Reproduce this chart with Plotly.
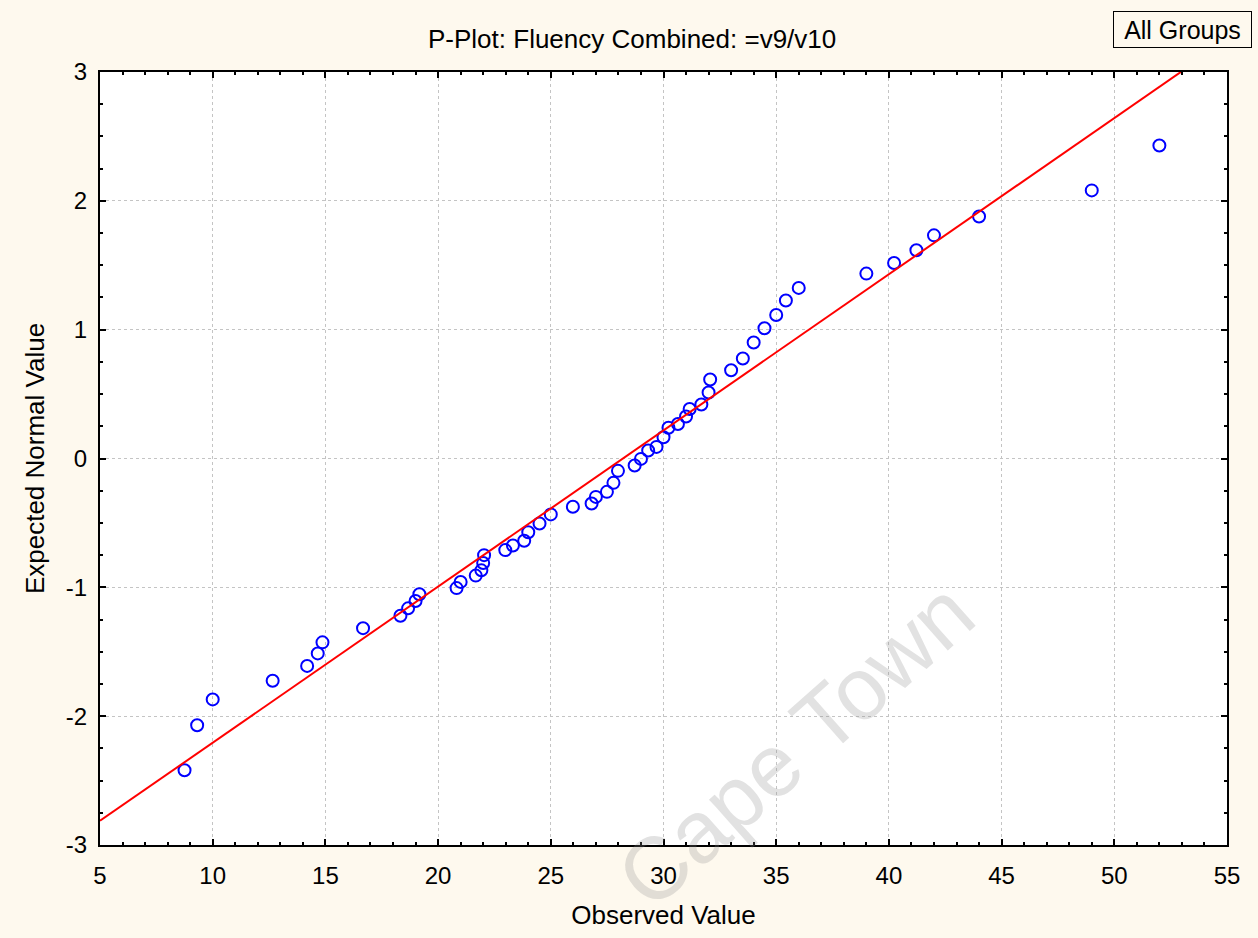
import plotly.graph_objects as go

# Observed fluency scores (sorted) and their expected normal values
observed = [8.75, 9.31, 10.0, 12.66, 14.19, 14.66, 14.87, 16.67, 18.33, 18.67,
            19.0, 19.17, 20.82, 21.0, 21.67, 21.92, 22.0, 22.04, 22.98, 23.32,
            23.82, 24.0, 24.5, 25.0, 25.98, 26.81, 27.0, 27.49, 27.78, 27.98,
            28.72, 29.0, 29.32, 29.69, 30.0, 30.22, 30.64, 31.0, 31.16, 31.68,
            32.0, 32.07, 33.0, 33.52, 34.0, 34.48, 35.0, 35.43, 36.0, 39.0,
            40.23, 41.22, 42.0, 44.0, 49.0, 52.0]
expected = [-2.42, -2.07, -1.87, -1.725, -1.61, -1.513, -1.427, -1.317, -1.22, -1.163,
            -1.106, -1.054, -1.006, -0.958, -0.909, -0.868, -0.811, -0.75, -0.711, -0.675,
            -0.639, -0.572, -0.504, -0.434, -0.375, -0.349, -0.298, -0.259, -0.189, -0.096,
            -0.054, -0.003, 0.062, 0.09, 0.165, 0.239, 0.268, 0.326, 0.384, 0.419,
            0.512, 0.613, 0.685, 0.776, 0.9, 1.011, 1.114, 1.226, 1.324, 1.435,
            1.517, 1.616, 1.732, 1.878, 2.081, 2.43]

# Reference normal line: z = (x - mean) / sd
fit_mean = 28.2
fit_sd = 8.25
x_range = [5, 55]
y_range = [-3, 3]

# Axis tick positions and labels (plain hyphen for negatives)
x_tickvals = [5, 10, 15, 20, 25, 30, 35, 40, 45, 50, 55]
x_ticktext = ["5", "10", "15", "20", "25", "30", "35", "40", "45", "50", "55"]
y_tickvals = [-3, -2, -1, 0, 1, 2, 3]
y_ticktext = ["-3", "-2", "-1", "0", "1", "2", "3"]

line_x = [x_range[0], x_range[1]]
line_y = [(v - fit_mean) / fit_sd for v in line_x]

PAGE_BG = "#FEF9EE"
FONT = "Liberation Sans, Arial, Helvetica, sans-serif"

fig = go.Figure()
fig.add_trace(go.Scatter(
    x=observed, y=expected, mode="markers",
    marker=dict(symbol="circle-open", size=12, color="#0000FF",
                line=dict(width=2, color="#0000FF")),
    showlegend=False,
))
fig.add_trace(go.Scatter(
    x=line_x, y=line_y, mode="lines",
    line=dict(color="#FF0000", width=2),
    showlegend=False,
))

axis_common = dict(
    showline=True, linecolor="black", linewidth=2, mirror="allticks",
    ticks="inside", ticklen=6, tickwidth=1.5, tickcolor="black",
    showgrid=True, gridcolor="#C4C4C4", gridwidth=1, griddash="dot",
    zeroline=False, tickmode="array",
    tickfont=dict(family=FONT, size=24, color="black"),
)

fig.update_xaxes(
    range=x_range, tickvals=x_tickvals, ticktext=x_ticktext,
    minor=dict(dtick=1, tick0=5, ticks="inside", ticklen=3, tickcolor="black", showgrid=False),
    title=dict(text="Observed Value", font=dict(family=FONT, size=26, color="black"),
               standoff=18),
    ticklabelstandoff=8,
    **axis_common,
)
fig.update_yaxes(
    range=y_range, tickvals=y_tickvals, ticktext=y_ticktext,
    minor=dict(dtick=0.25, tick0=-3, ticks="inside", ticklen=3, tickcolor="black", showgrid=False),
    title=dict(text="Expected Normal Value", font=dict(family=FONT, size=26, color="black"),
               standoff=14),
    ticklabelstandoff=6,
    **axis_common,
)

fig.update_layout(
    width=1258, height=938,
    margin=dict(l=100, r=31, t=72, b=93),
    paper_bgcolor=PAGE_BG,
    plot_bgcolor="white",
    title=dict(text="P-Plot: Fluency Combined: =v9/v10",
               font=dict(family=FONT, size=26, color="black"),
               x=0.5025, xref="container", xanchor="center",
               y=1 - 39 / 938, yref="container", yanchor="middle"),
    annotations=[
        dict(text="All Groups", xref="paper", yref="paper",
             x=1.0222, y=1.0546, xanchor="right", yanchor="middle",
             showarrow=False, font=dict(family=FONT, size=25, color="black"),
             bordercolor="black", borderwidth=1, borderpad=0,
             bgcolor=PAGE_BG, width=137, height=35),
        dict(text="Cape Town", xref="paper", yref="paper",
             x=0.617, y=0.13, xanchor="center", yanchor="middle",
             showarrow=False, textangle=-41.5,
             font=dict(family=FONT, size=88, color="rgba(140,140,140,0.25)")),
    ],
)

fig.write_html("out.html")
